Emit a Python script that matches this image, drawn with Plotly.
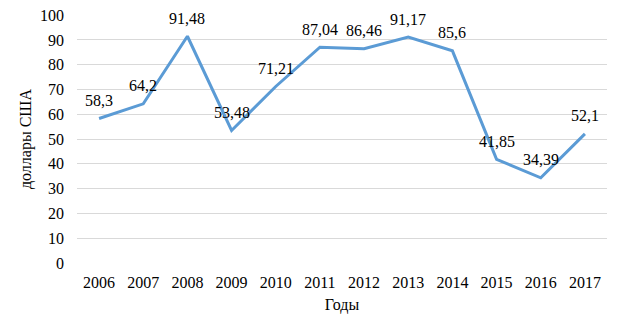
import plotly.graph_objects as go

years = ["2006", "2007", "2008", "2009", "2010", "2011", "2012", "2013", "2014", "2015", "2016", "2017"]
values = [58.3, 64.2, 91.48, 53.48, 71.21, 87.04, 86.46, 91.17, 85.6, 41.85, 34.39, 52.1]
labels = ["58,3", "64,2", "91,48", "53,48", "71,21", "87,04", "86,46", "91,17", "85,6", "41,85", "34,39", "52,1"]
y_ticks = [0, 10, 20, 30, 40, 50, 60, 70, 80, 90, 100]

FONT = "Liberation Serif"

fig = go.Figure()
fig.add_trace(go.Scatter(
    x=years, y=values, mode="lines",
    line=dict(color="#5B9BD5", width=3),
    showlegend=False, hoverinfo="skip",
))

for i, (y, t) in enumerate(zip(values, labels)):
    fig.add_annotation(
        x=i, y=y, xref="x", yref="y", text=t, showarrow=False, yshift=18,
        font=dict(family=FONT, size=16, color="#000000"),
    )

fig.update_layout(
    width=623, height=330,
    margin=dict(l=69, r=24, t=7, b=75, autoexpand=False),
    paper_bgcolor="white", plot_bgcolor="white",
    font=dict(family=FONT, size=16, color="#000000"),
    xaxis=dict(
        type="category", range=[-0.5, len(years) - 0.5],
        showgrid=False, showline=False, zeroline=False,
        ticks="", ticklabelstandoff=8, automargin=False,
        tickfont=dict(family=FONT, size=16),
        title=dict(text="Годы", font=dict(family=FONT, size=16), standoff=8),
    ),
    yaxis=dict(
        range=[0, 100.05], tickvals=y_ticks, showgrid=True, gridcolor="#D9D9D9",
        gridwidth=1, zeroline=False, showline=False, ticks="",
        ticklabelstandoff=12, automargin=False, ticklabeloverflow="allow",
        tickfont=dict(family=FONT, size=16),
        title=dict(text="доллары США", font=dict(family=FONT, size=16), standoff=4),
    ),
)

fig.write_html("out.html")
